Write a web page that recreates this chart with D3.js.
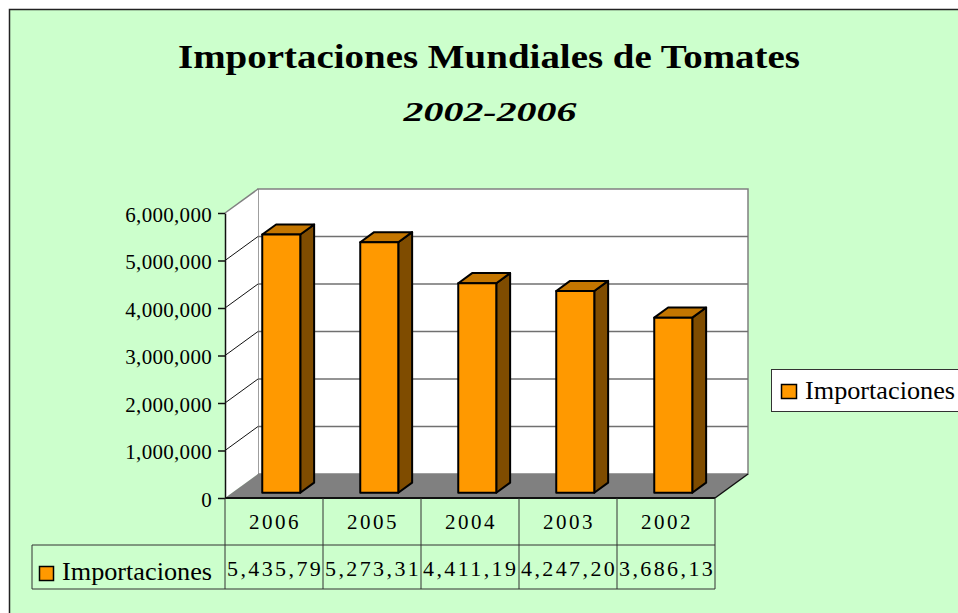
<!DOCTYPE html>
<html>
<head>
<meta charset="utf-8">
<script src="https://cdn.jsdelivr.net/npm/d3@7"></script>
<style>
  body { margin: 0; background: #fff; }
  svg { display: block; font-family: "Liberation Serif", "DejaVu Serif", serif; }
</style>
</head>
<body>
<script>
const years = ["2006", "2005", "2004", "2003", "2002"];
const imports = [5435790, 5273310, 4411190, 4247200, 3686130];
const yTicks = [0, 1000000, 2000000, 3000000, 4000000, 5000000, 6000000];
const seriesName = "Importaciones";
const title = "Importaciones Mundiales de Tomates";
const subtitle = "2002-2006";

function render() {
  const w = 958;
  const h = 613;
  const depthX = 33, depthY = -24;
  const f0 = 0.22, f1 = 0.64;

  const xScale = d3.scaleBand()
    .domain(years)
    .range([225, 715])
    .paddingInner(0.612)
    .paddingOuter(0.306);

  const yScale = d3.scaleLinear()
    .domain([0, 6000000])
    .range([498, 213]);

  const x0 = xScale.range()[0], x1 = xScale.range()[1];
  const yb = yScale(0), yt = yScale(6000000);
  const step = xScale.step();

  const svg = d3.select("body")
    .append("svg")
    .attr("width", w)
    .attr("height", h);

  svg.append("rect")
    .attr("x", 9.5).attr("y", 9.5)
    .attr("width", 980).attr("height", 640)
    .attr("fill", "#ccffcc")
    .attr("stroke", "#222")
    .attr("stroke-width", 1.5);

  svg.append("text")
    .attr("x", 489).attr("y", 68)
    .attr("text-anchor", "middle")
    .attr("font-size", 34).attr("font-weight", "bold")
    .attr("textLength", 622).attr("lengthAdjust", "spacingAndGlyphs")
    .text(title);

  svg.append("text")
    .attr("x", 490).attr("y", 121)
    .attr("text-anchor", "middle")
    .attr("font-size", 28).attr("font-weight", "bold").attr("font-style", "italic")
    .attr("textLength", 173).attr("lengthAdjust", "spacingAndGlyphs")
    .text(subtitle);

  const pt = (x, y, f) => [x + depthX * f, y + depthY * f];
  const poly = pts => pts.map(p => p.join(",")).join(" ");

  // walls and floor
  svg.append("polygon")
    .attr("points", poly([pt(x0, yt, 1), pt(x1, yt, 1), pt(x1, yb, 1), pt(x0, yb, 1)]))
    .attr("fill", "#fff").attr("stroke", "#808080").attr("stroke-width", 1.5);

  svg.append("polygon")
    .attr("points", poly([[x0, yt], pt(x0, yt, 1), pt(x0, yb, 1), [x0, yb]]))
    .attr("fill", "#fff");

  svg.append("line")
    .attr("x1", x0).attr("y1", yt)
    .attr("x2", pt(x0, yt, 1)[0]).attr("y2", pt(x0, yt, 1)[1])
    .attr("stroke", "#808080").attr("stroke-width", 1.5);

  svg.selectAll(".grid")
    .data(yTicks.slice(1, -1))
    .enter()
    .append("line")
    .attr("class", "grid")
    .attr("x1", pt(x0, 0, 1)[0]).attr("x2", pt(x1, 0, 1)[0])
    .attr("y1", d => pt(0, yScale(d), 1)[1]).attr("y2", d => pt(0, yScale(d), 1)[1])
    .attr("stroke", "#707070").attr("stroke-width", 1.3);

  svg.selectAll(".diag")
    .data(yTicks.slice(1, -1))
    .enter()
    .append("line")
    .attr("class", "diag")
    .attr("x1", x0).attr("y1", d => yScale(d))
    .attr("x2", pt(x0, 0, 1)[0]).attr("y2", d => pt(0, yScale(d), 1)[1])
    .attr("stroke", "#111").attr("stroke-width", 1);

  svg.append("polygon")
    .attr("points", poly([[x0, yb], [x1, yb], pt(x1, yb, 1), pt(x0, yb, 1)]))
    .attr("fill", "#808080");

  // bars
  const bars = svg.selectAll(".bar")
    .data(years.map((y, i) => ({ year: y, value: imports[i] })))
    .enter()
    .append("g")
    .attr("class", "bar")
    .attr("stroke", "#000").attr("stroke-width", 2).attr("stroke-linejoin", "round");

  const bw = xScale.bandwidth();
  bars.append("polygon")
    .attr("fill", "#7f4c00")
    .attr("points", d => {
      const xr = xScale(d.year) + bw, top = yScale(d.value);
      return poly([pt(xr, top, f0), pt(xr, top, f1), pt(xr, yb, f1), pt(xr, yb, f0)]);
    });
  bars.append("polygon")
    .attr("fill", "#c47600")
    .attr("points", d => {
      const xl = xScale(d.year), top = yScale(d.value);
      return poly([pt(xl, top, f0), pt(xl, top, f1), pt(xl + bw, top, f1), pt(xl + bw, top, f0)]);
    });
  bars.append("polygon")
    .attr("fill", "#ff9900")
    .attr("points", d => {
      const xl = xScale(d.year), top = yScale(d.value);
      return poly([pt(xl, top, f0), pt(xl + bw, top, f0), pt(xl + bw, yb, f0), pt(xl, yb, f0)]);
    });

  // y axis
  const yAxis = d3.axisLeft(yScale)
    .tickValues(yTicks)
    .tickFormat(d3.format(","))
    .tickSize(7)
    .tickSizeOuter(0)
    .tickPadding(6);

  const ay = svg.append("g")
    .attr("transform", "translate(" + x0 + ",0)")
    .call(yAxis);
  ay.select(".domain").attr("stroke", "#111").attr("stroke-width", 1.5);
  ay.selectAll(".tick line").attr("stroke", "#111").attr("stroke-width", 1.5);
  ay.selectAll(".tick text")
    .attr("font-family", "Liberation Serif, serif")
    .attr("font-size", 21)
    .attr("letter-spacing", 0.3)
    .attr("fill", "#000")
    .attr("dy", "0.4em");

  svg.append("line")
    .attr("x1", x0).attr("x2", x1).attr("y1", yb).attr("y2", yb)
    .attr("stroke", "#111").attr("stroke-width", 2);
  svg.append("line")
    .attr("x1", x1).attr("y1", yb)
    .attr("x2", pt(x1, yb, 1)[0]).attr("y2", pt(x1, yb, 1)[1])
    .attr("stroke", "#111").attr("stroke-width", 1.5);

  // data table
  const rowTop = yb, rowMid = 545, rowBot = 589;
  const table = svg.append("g").attr("stroke", "#333").attr("stroke-width", 1);
  table.append("line").attr("x1", 32).attr("x2", x1).attr("y1", rowMid).attr("y2", rowMid);
  table.append("line").attr("x1", 32).attr("x2", x1).attr("y1", rowBot).attr("y2", rowBot);
  table.append("line").attr("x1", 32).attr("x2", 32).attr("y1", rowMid).attr("y2", rowBot);
  table.selectAll(".col")
    .data(d3.range(years.length + 1))
    .enter()
    .append("line")
    .attr("x1", i => x0 + i * step).attr("x2", i => x0 + i * step)
    .attr("y1", rowTop).attr("y2", rowBot);

  svg.selectAll(".cat")
    .data(years)
    .enter()
    .append("text")
    .attr("x", (d, i) => x0 + i * step + step / 2 + 1)
    .attr("y", 529)
    .attr("text-anchor", "middle")
    .attr("font-size", 21)
    .attr("letter-spacing", 2.5)
    .text(d => d);

  // cells only show what fits, as in the original sheet
  svg.selectAll(".val")
    .data(imports)
    .enter()
    .append("text")
    .attr("x", (d, i) => x0 + i * step + 2)
    .attr("y", 576)
    .attr("font-size", 22)
    .attr("letter-spacing", 2.4)
    .text(d => d3.format(",")(d).slice(0, 8));

  svg.append("rect")
    .attr("x", 39.5).attr("y", 566.5).attr("width", 14).attr("height", 14)
    .attr("fill", "#ff9900").attr("stroke", "#000").attr("stroke-width", 1.5);
  svg.append("text")
    .attr("x", 62).attr("y", 580)
    .attr("font-size", 25)
    .attr("textLength", 150).attr("lengthAdjust", "spacingAndGlyphs")
    .text(seriesName);

  // legend
  svg.append("rect")
    .attr("x", 771.5).attr("y", 369.5).attr("width", 220).attr("height", 42)
    .attr("fill", "#fff").attr("stroke", "#333").attr("stroke-width", 1);
  svg.append("rect")
    .attr("x", 781.5).attr("y", 384.5).attr("width", 15).attr("height", 14)
    .attr("fill", "#ff9900").attr("stroke", "#000").attr("stroke-width", 1.5);
  svg.append("text")
    .attr("x", 805).attr("y", 399)
    .attr("font-size", 25)
    .attr("textLength", 150).attr("lengthAdjust", "spacingAndGlyphs")
    .text(seriesName);
}

render();
</script>
</body>
</html>
